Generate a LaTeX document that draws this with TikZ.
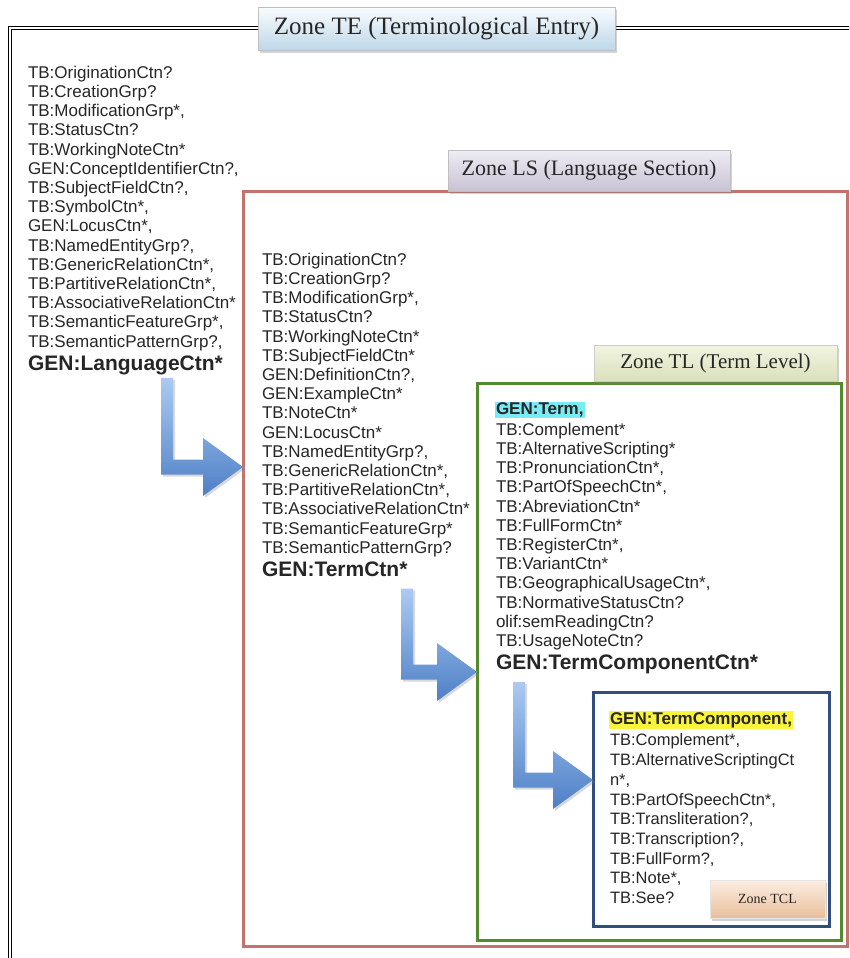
\documentclass[tikz,border=0pt]{standalone}
\usepackage{fontspec}
\usetikzlibrary{positioning, calc, shadows}
\newfontfamily\listfont{Liberation Sans}
\newfontfamily\labelfont{Liberation Serif}
\definecolor{LSRed}{RGB}{195, 115, 108}
\definecolor{TLGreen}{RGB}{82, 138, 44}
\definecolor{TCLBlue}{RGB}{48, 78, 128}
\definecolor{ArrowLight}{RGB}{172, 202, 242}
\definecolor{ArrowDark}{RGB}{78, 128, 198}
\definecolor{HLCyan}{RGB}{120, 235, 245}
\definecolor{HLYellow}{RGB}{250, 245, 60}
\definecolor{TETop}{RGB}{250, 252, 254}
\definecolor{TEBot}{RGB}{190, 215, 232}
\definecolor{LSTop}{RGB}{238, 236, 244}
\definecolor{LSBot}{RGB}{200, 195, 212}
\definecolor{TLTop}{RGB}{242, 244, 225}
\definecolor{TLBot}{RGB}{218, 224, 188}
\definecolor{TCLTop}{RGB}{252, 238, 225}
\definecolor{TCLBot}{RGB}{232, 190, 155}
% bent block arrow: #1 top of the shaft, #2 tip
\newcommand{\bendarrow}[2]{%
  \shade[arr] let \p1=(#1), \p2=(#2) in
    (\x1-6pt,\y1) -- (\x1+6pt,\y1) -- (\x1+6pt,\y2+7.5pt) -- (\x2-40pt,\y2+7.5pt)
    -- (\x2-40pt,\y2+29pt) -- (\x2,\y2) -- (\x2-40pt,\y2-29pt) -- (\x2-40pt,\y2-7.5pt)
    -- (\x1-6pt,\y2-7.5pt) -- cycle;}

\begin{document}
\begin{tikzpicture}[
  x=1pt, y=-1pt,
  every node/.style={inner sep=0pt, outer sep=0pt, text=black!85},
  itemlist/.style={align=left, anchor=north west,
                   font=\listfont\fontsize{17}{19.2}\selectfont},
  boldline/.style={font=\listfont\bfseries\fontsize{21}{24}\selectfont},
  hdrtext/.style={inner sep=1pt, anchor=west,
                  font=\listfont\bfseries\fontsize{17}{20}\selectfont},
  zonebox/.style={draw, line width=3pt, anchor=north west, fill=white},
  zonelabel/.style={draw=#1, line width=0.6pt, font=\labelfont,
                    drop shadow={shadow xshift=2pt, shadow yshift=-3pt, opacity=0.35}},
  arr/.style={top color=ArrowLight, bottom color=ArrowDark,
              drop shadow={shadow xshift=2pt, shadow yshift=-2pt, opacity=0.3}}
]
  \useasboundingbox (0,0) rectangle (849,958);
  \clip (0,0) rectangle (849,958);

  %% outer frame and Zone TE
  \draw[double, line width=0.8pt, double distance=2.5pt] (10,28) rectangle (880,990);
  \node[zonelabel=black!25, top color=TETop, bottom color=TEBot,
        minimum width=357pt, minimum height=43pt,
        font=\labelfont\fontsize{25}{28}\selectfont] (telabel) at (436.5,28.5)
        {Zone TE (Terminological Entry)};

  %% Zone LS
  \node[zonebox, draw=LSRed, minimum width=604pt, minimum height=755pt] (lsbox) at (243,191) {};
  \node[zonelabel=black!25, top color=LSTop, bottom color=LSBot,
        minimum width=282pt, minimum height=41pt,
        font=\labelfont\fontsize{22}{25}\selectfont] (lslabel) at (589,170.5)
        {Zone LS (Language Section)};

  %% Zone TL
  \node[zonebox, draw=TLGreen, minimum width=364pt, minimum height=557pt] (tlbox) at (477,383) {};
  \node[zonelabel=black!20, top color=TLTop, bottom color=TLBot,
        minimum width=243pt, minimum height=36pt,
        font=\labelfont\fontsize{21}{24}\selectfont] (tllabel) at (715.5,363)
        {Zone TL (Term Level)};

  %% Zone TCL
  \node[zonebox, draw=TCLBlue, minimum width=236pt, minimum height=234pt] (tclbox) at (593,692) {};
  \node[zonelabel=black!10, top color=TCLTop, bottom color=TCLBot,
        minimum width=115pt, minimum height=38pt,
        font=\labelfont\fontsize{14}{16}\selectfont] (tcllabel) at (767.5,899)
        {Zone TCL};

  %% item lists
  \node[itemlist] (telist) at (28,66) {TB:OriginationCtn?\\TB:CreationGrp?\\TB:ModificationGrp*,\\
    TB:StatusCtn?\\TB:WorkingNoteCtn*\\GEN:ConceptIdentifierCtn?,\\TB:SubjectFieldCtn?,\\
    TB:SymbolCtn*,\\GEN:LocusCtn*,\\TB:NamedEntityGrp?,\\TB:GenericRelationCtn*,\\
    TB:PartitiveRelationCtn*,\\TB:AssociativeRelationCtn*\\TB:SemanticFeatureGrp*,\\
    TB:SemanticPatternGrp?,};
  \node[boldline, below=5pt of telist.south west, anchor=north west] (langctn) {GEN:LanguageCtn*};

  \node[itemlist] (lslist) at (262,253) {TB:OriginationCtn?\\TB:CreationGrp?\\TB:ModificationGrp*,\\
    TB:StatusCtn?\\TB:WorkingNoteCtn*\\TB:SubjectFieldCtn*\\GEN:DefinitionCtn?,\\
    GEN:ExampleCtn*\\TB:NoteCtn*\\GEN:LocusCtn*\\TB:NamedEntityGrp?,\\
    TB:GenericRelationCtn*,\\TB:PartitiveRelationCtn*,\\TB:AssociativeRelationCtn*\\
    TB:SemanticFeatureGrp*\\TB:SemanticPatternGrp?};
  \node[boldline, below=5pt of lslist.south west, anchor=north west] (termctn) {GEN:TermCtn*};

  \node[hdrtext, fill=HLCyan] (term) at (495,410) {GEN:Term,};
  \node[itemlist] (tllist) at (496,423) {TB:Complement*\\TB:AlternativeScripting*\\
    TB:PronunciationCtn*,\\TB:PartOfSpeechCtn*,\\TB:AbreviationCtn*\\TB:FullFormCtn*\\
    TB:RegisterCtn*,\\TB:VariantCtn*\\TB:GeographicalUsageCtn*,\\TB:NormativeStatusCtn?\\
    olif:semReadingCtn?\\TB:UsageNoteCtn?};
  \node[boldline, below=5pt of tllist.south west, anchor=north west] (tcctn) {GEN:TermComponentCtn*};

  \node[hdrtext, fill=HLYellow] (tcomp) at (609,720) {GEN:TermComponent,};
  \node[itemlist, font=\listfont\fontsize{16.5}{19.7}\selectfont] (tcllist) at (610,734)
    {TB:Complement*,\\TB:AlternativeScriptingCt\\n*,\\TB:PartOfSpeechCtn*,\\
    TB:Transliteration?,\\TB:Transcription?,\\TB:FullForm?,\\TB:Note*,\\TB:See?};

  %% arrows
  \coordinate (a1top) at ($(langctn.south west)+(139,3)$);
  \coordinate (a1tip) at ($(lsbox.north west)+(0,276)$);
  \coordinate (a2top) at ($(termctn.south west)+(145,12)$);
  \coordinate (a2tip) at ($(tlbox.north west)+(0,289)$);
  \coordinate (a3top) at ($(tcctn.south west)+(23,8)$);
  \coordinate (a3tip) at ($(tclbox.north west)+(0,88)$);
  \bendarrow{a1top}{a1tip}
  \bendarrow{a2top}{a2tip}
  \bendarrow{a3top}{a3tip}
\end{tikzpicture}
\end{document}
